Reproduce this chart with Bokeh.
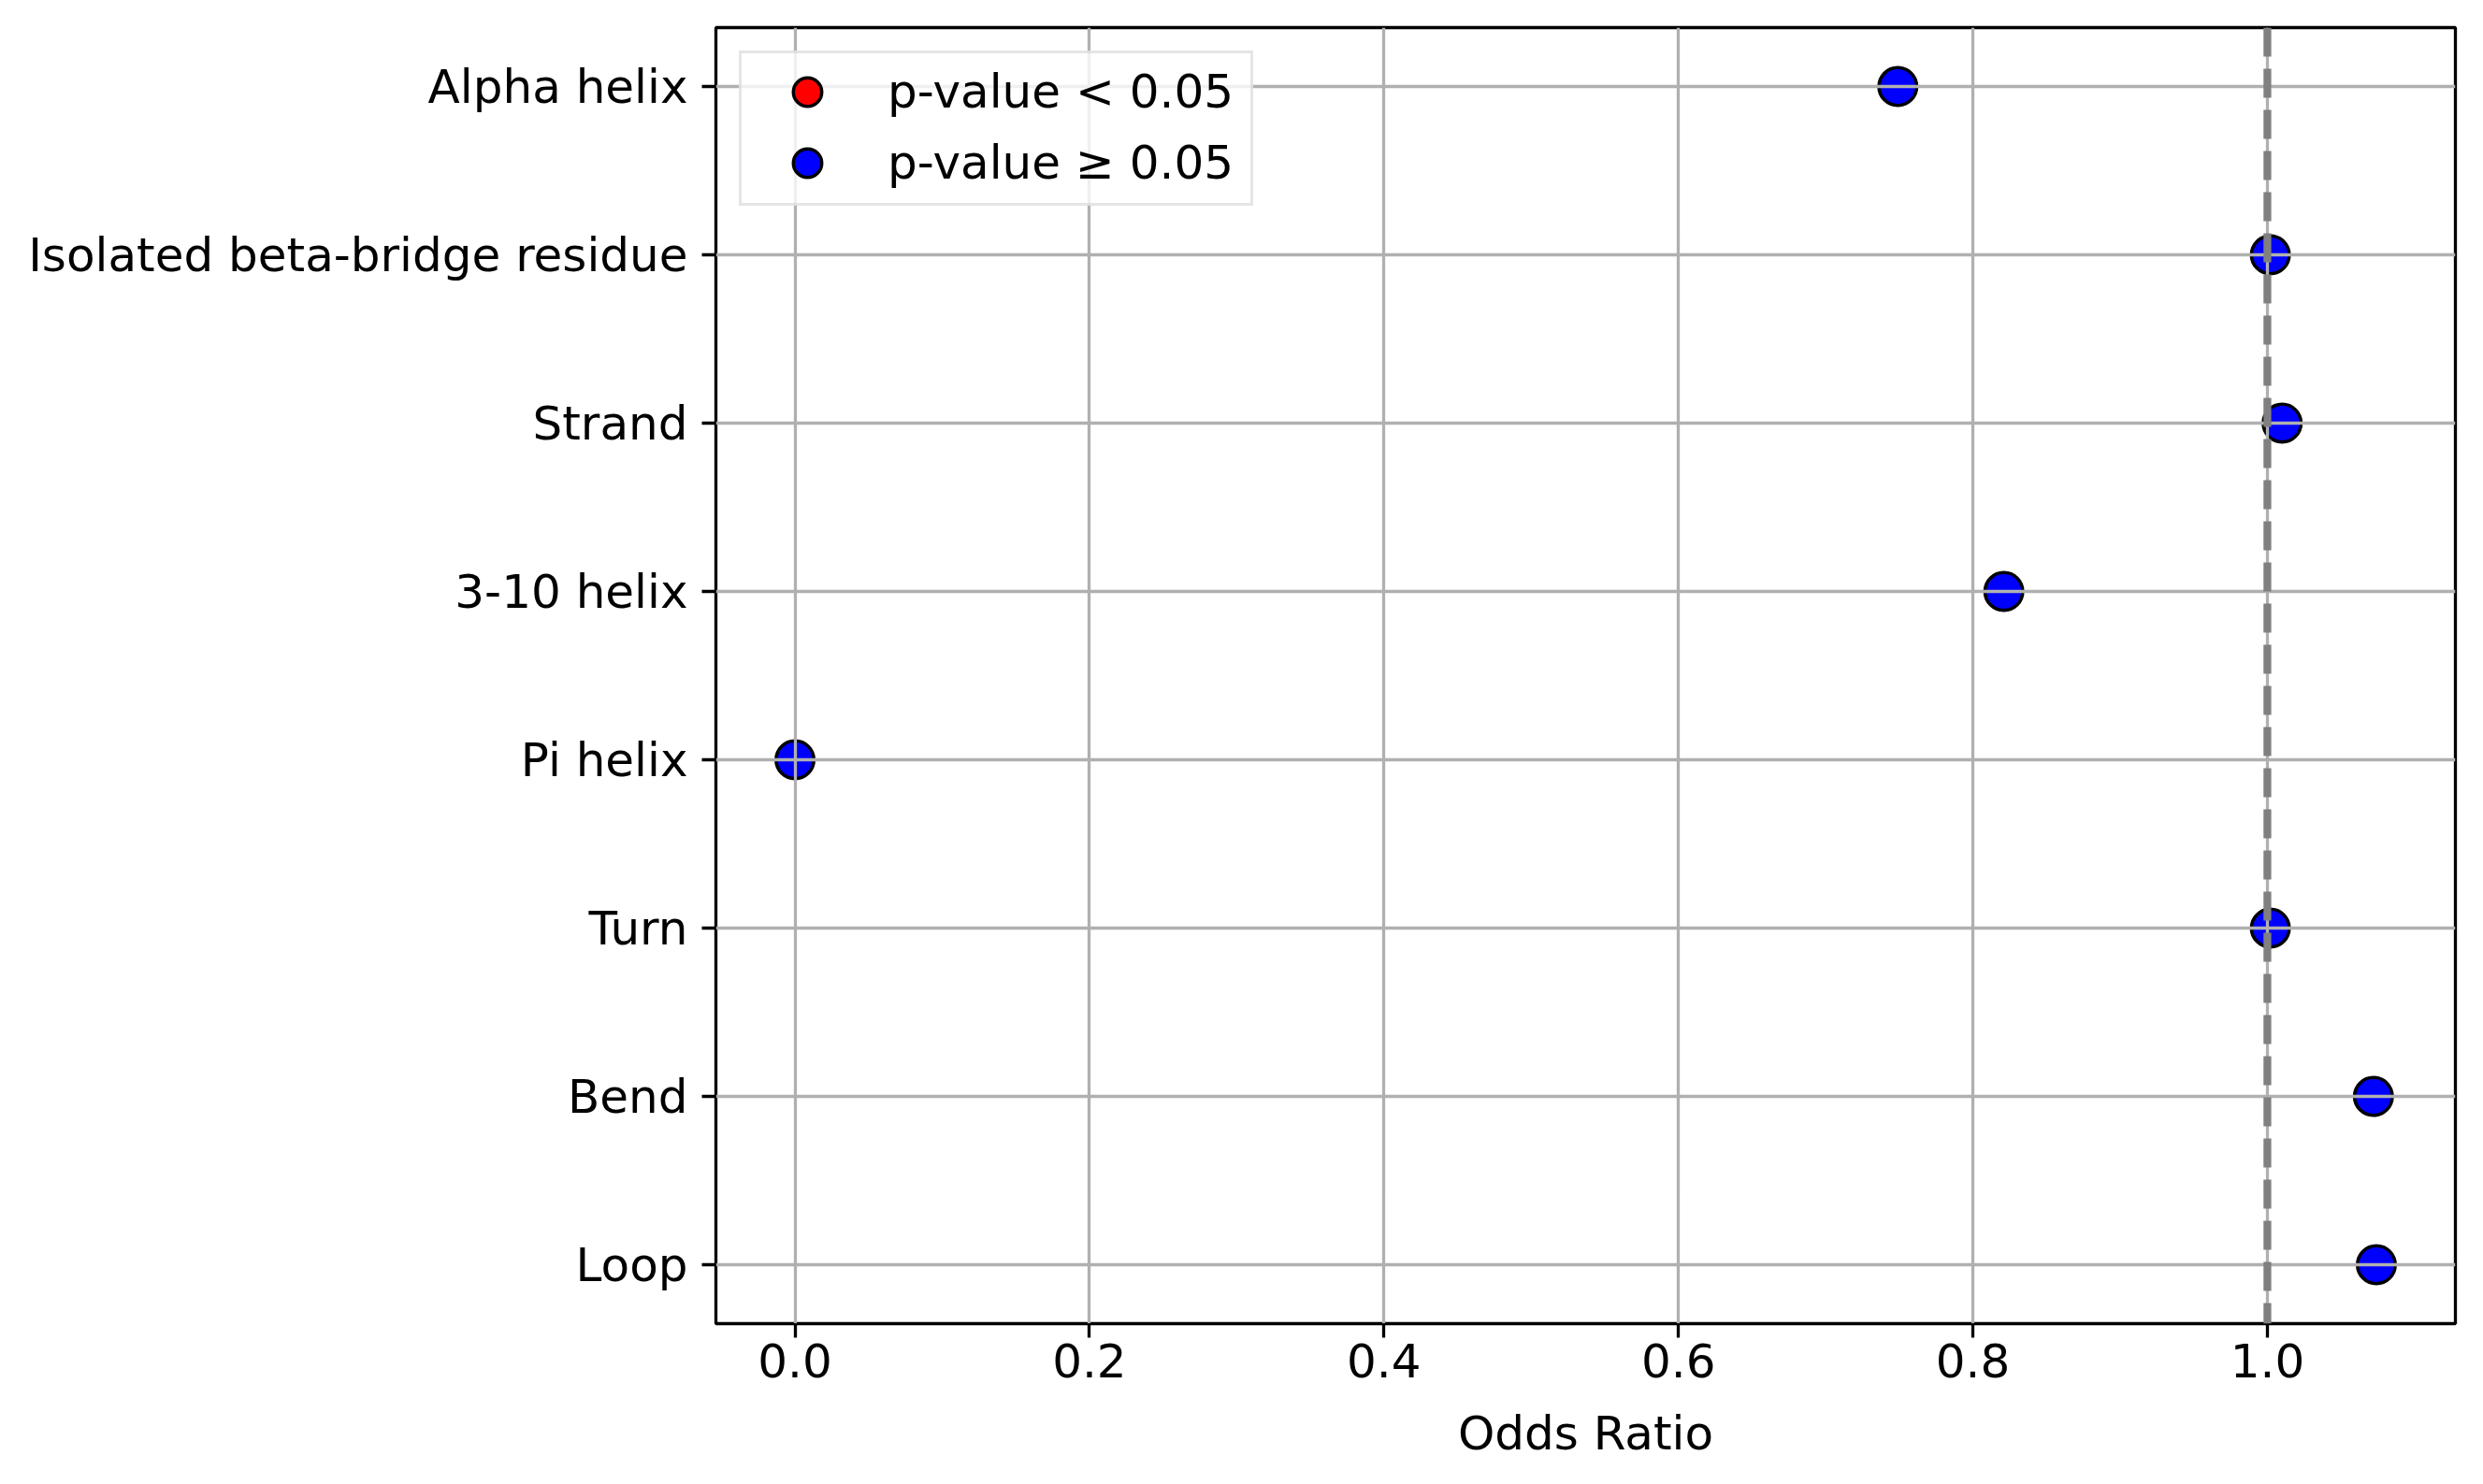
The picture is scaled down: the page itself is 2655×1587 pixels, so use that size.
import math
from bokeh.plotting import figure
from bokeh.models import (ColumnDataSource, FactorRange, Range1d, FixedTicker,
                          PrintfTickFormatter, Span, Legend, LegendItem)
from bokeh.embed import file_html
from bokeh.resources import INLINE

# ---- data ----
categories = ["Alpha helix", "Isolated beta-bridge residue", "Strand", "3-10 helix",
              "Pi helix", "Turn", "Bend", "Loop"]
odds_ratios = [0.749, 1.002, 1.010, 0.821, 0.0, 1.002, 1.072, 1.074]
significant = [False, False, False, False, False, False, False, False]
x_ticks = [0.0, 0.2, 0.4, 0.6, 0.8, 1.0]
reference_value = 1.0
legend_labels = ["p-value < 0.05", "p-value \u2265 0.05"]
x_label = "Odds Ratio"

FONT = "DejaVu Sans"
FS = "50px"

lo, hi = min(odds_ratios), max(odds_ratios)
pad = 0.05 * (hi - lo)

p = figure(width=2647, height=1579, output_backend="svg", toolbar_location=None,
           x_range=Range1d(lo - pad, hi + pad),
           y_range=FactorRange(factors=categories[::-1], range_padding=-0.15,
                               range_padding_units="absolute"),
           min_border_left=765, min_border_right=22, min_border_top=29,
           min_border_bottom=164)
p.background_fill_color = "white"
p.border_fill_color = "white"
p.outline_line_color = "black"
p.outline_line_width = 3.3

nan = float("nan")
sig_src = ColumnDataSource(dict(
    x=[o if s else nan for o, s in zip(odds_ratios, significant)], y=categories))
non_src = ColumnDataSource(dict(
    x=[nan if s else o for o, s in zip(odds_ratios, significant)], y=categories))

r_sig = p.scatter("x", "y", source=sig_src, size=40.5, fill_color="red",
                  line_color="black", line_width=3.5, level="image")
r_non = p.scatter("x", "y", source=non_src, size=40.5, fill_color="blue",
                  line_color="black", line_width=3.5, level="image")

p.add_layout(Span(location=reference_value, dimension="height", line_color="gray",
                  line_width=8.3, line_dash="31 13"))

# grid
for g in (p.xgrid, p.ygrid):
    g.grid_line_color = "#b0b0b0"
    g.grid_line_width = 3.3
    g.level = "underlay"

# axes
p.xaxis.ticker = FixedTicker(ticks=x_ticks)
p.xaxis.formatter = PrintfTickFormatter(format="%.1f")
p.xaxis.axis_label = x_label
for ax in (p.xaxis[0], p.yaxis[0]):
    ax.axis_line_color = None
    ax.major_tick_line_color = "black"
    ax.major_tick_line_width = 3.3
    ax.major_tick_in = 0
    ax.major_tick_out = 15
    ax.minor_tick_line_color = None
    ax.major_label_text_font = FONT
    ax.major_label_text_font_size = FS
    ax.major_label_text_color = "black"
    ax.axis_label_text_font = FONT
    ax.axis_label_text_font_size = FS
    ax.axis_label_text_font_style = "normal"
    ax.axis_label_text_color = "black"
p.xaxis.major_label_standoff = 6
p.xaxis.axis_label_standoff = 28
p.yaxis.major_label_standoff = 15

legend = Legend(items=[LegendItem(label=legend_labels[0], renderers=[r_sig]),
                       LegendItem(label=legend_labels[1], renderers=[r_non])],
                location="top_left", margin=25,
                padding=dict(left=0, right=0, top=3, bottom=5), spacing=0,
                glyph_width=140, glyph_height=76, label_standoff=16,
                label_width=388, label_text_font=FONT, label_text_font_size=FS,
                label_text_color="black",
                border_line_color="#cccccc", border_line_width=3.3,
                background_fill_color="white", background_fill_alpha=0.8)
p.add_layout(legend)

open("out.html", "w").write(file_html(p, INLINE))
